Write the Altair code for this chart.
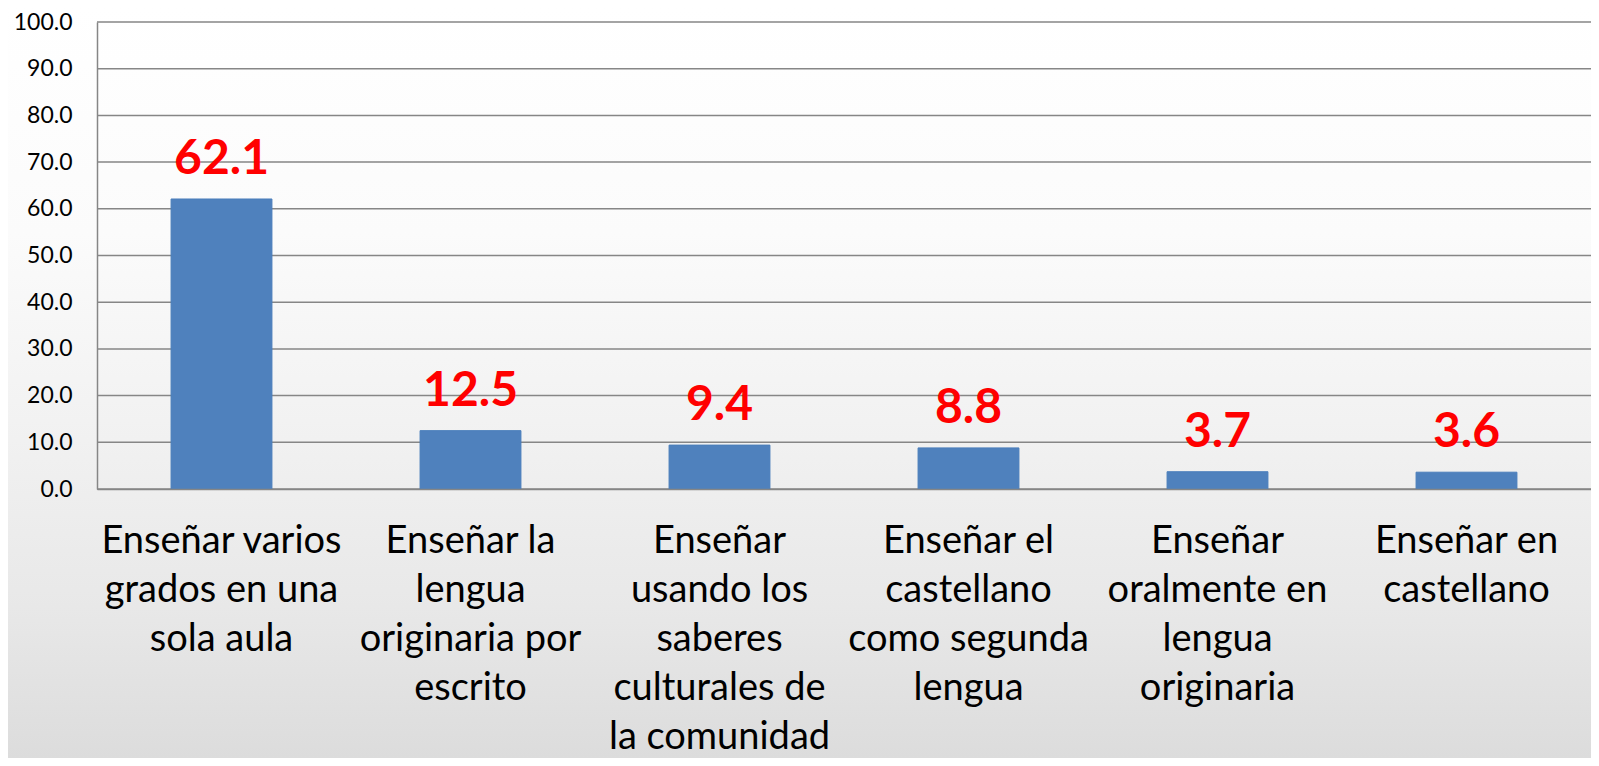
import altair as alt
import pandas as pd

categories = [
    "Enseñar varios\ngrados en una\nsola aula",
    "Enseñar la\nlengua\noriginaria por\nescrito",
    "Enseñar\nusando los\nsaberes\nculturales de\nla comunidad",
    "Enseñar el\ncastellano\ncomo segunda\nlengua",
    "Enseñar\noralmente en\nlengua\noriginaria",
    "Enseñar en\ncastellano",
]
values = [62.1, 12.5, 9.4, 8.8, 3.7, 3.6]
y_ticks = [0, 10, 20, 30, 40, 50, 60, 70, 80, 90, 100]

df = pd.DataFrame({"cat": categories, "val": values})
grid_df = pd.DataFrame({"g": y_ticks})

W = 1494
H = 467
PL, PT, PB = 89, 14, 269
FONT = "Lato"

xenc = alt.X(
    "cat:N",
    sort=categories,
    title=None,
    scale=alt.Scale(paddingInner=0.595, paddingOuter=0.2975),
    axis=alt.Axis(
        labelExpr="split(datum.value, '\\n')",
        labelAngle=0,
        labelFontSize=38,
        labelLineHeight=49,
        labelColor="#000000",
        labelFont=FONT,
        labelBaseline="top",
        labelPadding=33,
        ticks=False,
        domainColor="#868686",
        domainWidth=1.5,
        grid=False,
        labelLimit=400,
        zindex=1,
    ),
)
yenc = alt.Y(
    "val:Q",
    title=None,
    scale=alt.Scale(domain=[0, 100], nice=False),
    axis=alt.Axis(
        values=y_ticks,
        format=".1f",
        labelFontSize=23,
        labelColor="#000000",
        labelFont=FONT,
        labelPadding=25,
        ticks=False,
        domainColor="#868686",
        domainWidth=1.5,
        grid=False,
        zindex=1,
    ),
)

bg = alt.Chart(alt.Data(values=[{}])).mark_rect(
    fill=alt.LinearGradient(
        gradient="linear",
        x1=0, y1=0, x2=0, y2=1,
        stops=[
            alt.GradientStop(offset=0, color="#ffffff"),
            alt.GradientStop(offset=0.3, color="#fbfbfb"),
            alt.GradientStop(offset=0.55, color="#f2f2f2"),
            alt.GradientStop(offset=0.8, color="#e8e8e8"),
            alt.GradientStop(offset=1, color="#dcdcdc"),
        ],
    ),
    clip=False,
).encode(
    x=alt.value(-PL),
    x2=alt.value(W + 20),
    y=alt.value(-PT),
    y2=alt.value(H + PB),
)

grid = alt.Chart(grid_df).mark_rule(color="#868686", strokeWidth=1.5).encode(
    y=alt.Y("g:Q", scale=alt.Scale(domain=[0, 100], nice=False)),
)

base = alt.Chart(df)
bars = base.mark_bar(color="#4F81BD", stroke="#4A7EBB", strokeWidth=1).encode(x=xenc, y=yenc)
labels = base.mark_text(
    color="#FF0000",
    fontSize=48,
    fontWeight="bold",
    font=FONT,
    baseline="alphabetic",
    dy=-25,
).encode(x=alt.X("cat:N", sort=categories), y=alt.Y("val:Q"), text=alt.Text("val:Q", format=".1f"))

chart = (
    alt.layer(bg, grid, bars, labels)
    .properties(
        width=W,
        height=H,
        autosize=alt.AutoSizeParams(type="none"),
        padding={"left": PL, "top": PT, "right": 0, "bottom": PB},
    )
    .configure_view(stroke=None)
    .configure(background="#ffffff")
)

chart.save("out.html", embed_options={"renderer": "svg", "actions": False})
